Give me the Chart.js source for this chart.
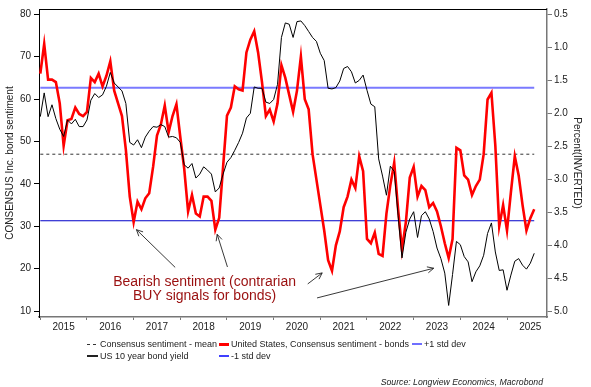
<!DOCTYPE html>
<html>
<head>
<meta charset="utf-8">
<script src="https://cdn.jsdelivr.net/npm/chart.js@4.4.1/dist/chart.umd.min.js"></script>
<style>
  body { margin: 0; background: #fff; }
  #wrap { position: relative; width: 591px; height: 387px; font-family: 'Liberation Sans', Arial, sans-serif; color: #222; }
  canvas { position: absolute; left: 0; top: 0; }
  .lg { position: absolute; font-size: 9px; line-height: 12px; white-space: nowrap; }
  .sw { position: absolute; }
</style>
</head>
<body>
<div id="wrap">
  <canvas id="chart" width="591" height="387"></canvas>

  <div class="sw" style="left:87px;top:344px;width:3px;height:1px;background:#333"></div>
  <div class="sw" style="left:93px;top:344px;width:3px;height:1px;background:#333"></div>
  <div class="lg" style="left:100px;top:338px">Consensus sentiment - mean</div>
  <div class="sw" style="left:219px;top:343px;width:10px;height:3px;background:#ff0000"></div>
  <div class="lg" style="left:231px;top:338px">United States, Consensus sentiment - bonds</div>
  <div class="sw" style="left:412px;top:343px;width:10px;height:2px;background:#6f6fff"></div>
  <div class="lg" style="left:424px;top:338px">+1 std dev</div>

  <div class="sw" style="left:87px;top:355px;width:11px;height:2px;background:#222"></div>
  <div class="lg" style="left:100px;top:350px">US 10 year bond yield</div>
  <div class="sw" style="left:219px;top:355px;width:10px;height:2px;background:#4040ff"></div>
  <div class="lg" style="left:231px;top:350px">-1 std dev</div>

  <div class="lg" style="right:48px;top:376px;font-style:italic;font-size:8.7px">Source: Longview Economics, Macrobond</div>
</div>

<script>
  // monthly readings, Jan 2015 onwards
  const startYear = 2015;
  const sentiment = [
    66, 73, 64.6, 64.6, 64, 59, 49, 55, 55.3, 58, 56.5, 56,
    57, 65, 64, 66, 63, 65.5, 68.9, 62, 59, 56, 48, 37,
    31, 35.8, 34, 36.6, 37.8, 44, 51.4, 54, 58.5, 52.2, 56, 58.8,
    51, 43.6, 33.5, 37.4, 33, 32.3, 37, 37, 36, 29.2, 32, 44,
    56.1, 58, 63, 62.3, 62, 71, 74, 76, 71, 64, 56, 57.5,
    54.7, 59, 68, 65, 61, 57, 62, 70, 60, 57.6, 47, 41,
    35, 29, 22, 19.5, 25.5, 28.8, 34.5, 37, 41, 39, 46.5, 43,
    27, 26, 28.5, 23.5, 23, 33, 39.7, 45, 34, 24.5, 31, 41.5,
    44, 37, 39.5, 38.5, 34.5, 35.5, 33.5, 30, 26, 22.5, 27, 48.5,
    47.9, 42, 41, 37.4, 39.5, 41, 47, 59.9, 61.5, 49, 30, 35,
    29, 38, 46.5, 42, 35, 29, 31.9, 34
  ];
  const yield10y = [
    2.05, 1.69, 2.05, 1.87, 2.08, 2.24, 2.35, 2.10, 2.16, 2.09, 2.2, 2.2,
    2.1, 1.8, 1.7, 1.76, 1.72, 1.59, 1.38, 1.54, 1.6, 1.66, 1.85, 2.44,
    2.48, 2.4, 2.52, 2.36, 2.27, 2.2, 2.21, 2.17, 2.2, 2.36, 2.35, 2.37,
    2.44, 2.78, 2.83, 2.76, 2.98, 2.92, 2.81, 2.86, 2.92, 3.19, 3.13, 2.92,
    2.74, 2.67, 2.56, 2.44, 2.3, 2.07, 2.0, 1.6, 1.62, 1.62, 1.83, 1.85,
    1.79, 1.56, 0.85, 0.63, 0.65, 0.85, 0.61, 0.6, 0.67, 0.76, 0.85, 0.91,
    1.09, 1.2, 1.62, 1.63, 1.61, 1.51, 1.32, 1.29, 1.37, 1.54, 1.5, 1.42,
    1.65, 1.86, 1.9, 2.69, 2.95, 3.24, 2.8, 2.88, 3.55, 4.19, 3.8, 3.6,
    3.49, 3.88, 3.55, 3.49, 3.6, 3.79, 4.04, 4.2, 4.42, 4.91, 4.44, 3.94,
    3.99, 4.17, 4.25, 4.55, 4.4, 4.31, 4.15, 3.82, 3.66, 4.1, 4.38, 4.37,
    4.68, 4.45, 4.24, 4.2, 4.3, 4.36, 4.27, 4.12
  ];
  const meanLevel = 47.0;
  const plusStd = 62.7;
  const minusStd = 31.3;

  const years = [2015, 2016, 2017, 2018, 2019, 2020, 2021, 2022, 2023, 2024, 2025];
  const leftTicks = [10, 20, 30, 40, 50, 60, 70, 80];
  const rightTicks = [0.5, 1.0, 1.5, 2.0, 2.5, 3.0, 3.5, 4.0, 4.5, 5.0];

  const noteLines = ['Bearish sentiment (contrarian', 'BUY signals for bonds)'];
  const noteAt = { x: 2018.52, y: [16.8, 13.5] };
  // [tailX, tailY, headX, headY] in year / sentiment units
  const arrows = [
    [2017.89, 20.3, 2017.06, 29.2],
    [2019.01, 20.4, 2018.79, 28.1],
    [2020.73, 16.4, 2021.04, 19.0],
    [2020.93, 13.1, 2023.43, 20.1]
  ];

  const toPts = arr => arr.map((v, i) => ({ x: startYear + i / 12, y: v }));
  const xFirst = startYear;
  const xLast = startYear + (sentiment.length - 1) / 12;
  const flat = v => [{ x: xFirst, y: v }, { x: xLast, y: v }];

  const overlay = {
    id: 'overlay',
    afterDatasetsDraw(chart) {
      const { ctx, chartArea: a, scales: { x, y } } = chart;
      ctx.save();
      // top frame
      ctx.strokeStyle = '#000';
      ctx.lineWidth = 1;
      ctx.beginPath();
      ctx.moveTo(a.left, a.top + 0.5);
      ctx.lineTo(a.right, a.top + 0.5);
      ctx.stroke();

      // arrows
      ctx.strokeStyle = '#222';
      ctx.lineWidth = 0.9;
      arrows.forEach(([tx, ty, hx, hy]) => {
        const x0 = x.getPixelForValue(tx), y0 = y.getPixelForValue(ty);
        const x1 = x.getPixelForValue(hx), y1 = y.getPixelForValue(hy);
        const ang = Math.atan2(y1 - y0, x1 - x0);
        ctx.beginPath();
        ctx.moveTo(x0, y0);
        ctx.lineTo(x1, y1);
        ctx.moveTo(x1 - 7 * Math.cos(ang - 0.45), y1 - 7 * Math.sin(ang - 0.45));
        ctx.lineTo(x1, y1);
        ctx.lineTo(x1 - 7 * Math.cos(ang + 0.45), y1 - 7 * Math.sin(ang + 0.45));
        ctx.stroke();
      });

      // note
      ctx.fillStyle = '#9a0f0f';
      ctx.font = '14px "Liberation Sans", Arial, sans-serif';
      ctx.textAlign = 'center';
      ctx.textBaseline = 'middle';
      noteLines.forEach((t, i) => {
        ctx.fillText(t, x.getPixelForValue(noteAt.x), y.getPixelForValue(noteAt.y[i]));
      });
      ctx.restore();
    }
  };

  Chart.defaults.font.family = "'Liberation Sans', Arial, sans-serif";
  Chart.defaults.color = '#222';
  Chart.defaults.font.size = 10;

  new Chart(document.getElementById('chart').getContext('2d'), {
    type: 'line',
    data: {
      datasets: [
        { label: 'US 10 year bond yield', data: toPts(yield10y), yAxisID: 'y1',
          borderColor: '#000', borderWidth: 1, pointRadius: 0, tension: 0, order: 0 },
        { label: 'United States, Consensus sentiment - bonds', data: toPts(sentiment), yAxisID: 'y',
          borderColor: '#ff0000', borderWidth: 2.6, pointRadius: 0, tension: 0, order: 1 },
        { label: 'Consensus sentiment - mean', data: flat(meanLevel), yAxisID: 'y',
          borderColor: '#333', borderWidth: 1, borderDash: [3, 3], pointRadius: 0, order: 2 },
        { label: '+1 std dev', data: flat(plusStd), yAxisID: 'y',
          borderColor: '#7a7aff', borderWidth: 2, pointRadius: 0, order: 3 },
        { label: '-1 std dev', data: flat(minusStd), yAxisID: 'y',
          borderColor: '#0000c8', borderWidth: 1.2, pointRadius: 0, order: 4 }
      ]
    },
    options: {
      responsive: false,
      animation: false,
      layout: { padding: { top: 5, bottom: 50, left: 0, right: 0 } },
      plugins: { legend: { display: false }, tooltip: { enabled: false } },
      scales: {
        x: {
          type: 'linear', min: 2014.972, max: 2025.857,
          afterBuildTicks: s => { s.ticks = years.map(v => ({ value: v })); },
          afterFit: s => { s.height = 20; },
          ticks: { callback: v => String(v), labelOffset: 23.3, autoSkip: false, maxRotation: 0, padding: 1 },
          grid: { drawOnChartArea: false, tickLength: 3, color: '#777', tickColor: '#777' },
          border: { color: '#777', width: 1.5 }
        },
        y: {
          position: 'left', min: 8.6, max: 81.25,
          afterBuildTicks: s => { s.ticks = leftTicks.map(v => ({ value: v })); },
          afterFit: s => { s.width = 39; },
          ticks: { padding: 3 },
          grid: { drawOnChartArea: false, tickLength: 5, color: '#000', tickColor: '#000' },
          border: { color: '#000', width: 1 },
          title: { display: true, text: 'CONSENSUS Inc. bond sentiment', font: { size: 10 }, padding: { top: 4, bottom: 0 } }
        },
        y1: {
          position: 'right', reverse: true, min: 0.419, max: 5.085,
          afterBuildTicks: s => { s.ticks = rightTicks.map(v => ({ value: v })); },
          afterFit: s => { s.width = 44; },
          ticks: { padding: 2, callback: v => Number(v).toFixed(1) },
          grid: { drawOnChartArea: false, tickLength: 5, color: '#777', tickColor: '#777' },
          border: { color: '#777', width: 1.5 },
          title: { display: true, text: 'Percent(INVERTED)', font: { size: 10 }, padding: { top: 8, bottom: 0 } }
        }
      }
    },
    plugins: [overlay]
  });
</script>
</body>
</html>
